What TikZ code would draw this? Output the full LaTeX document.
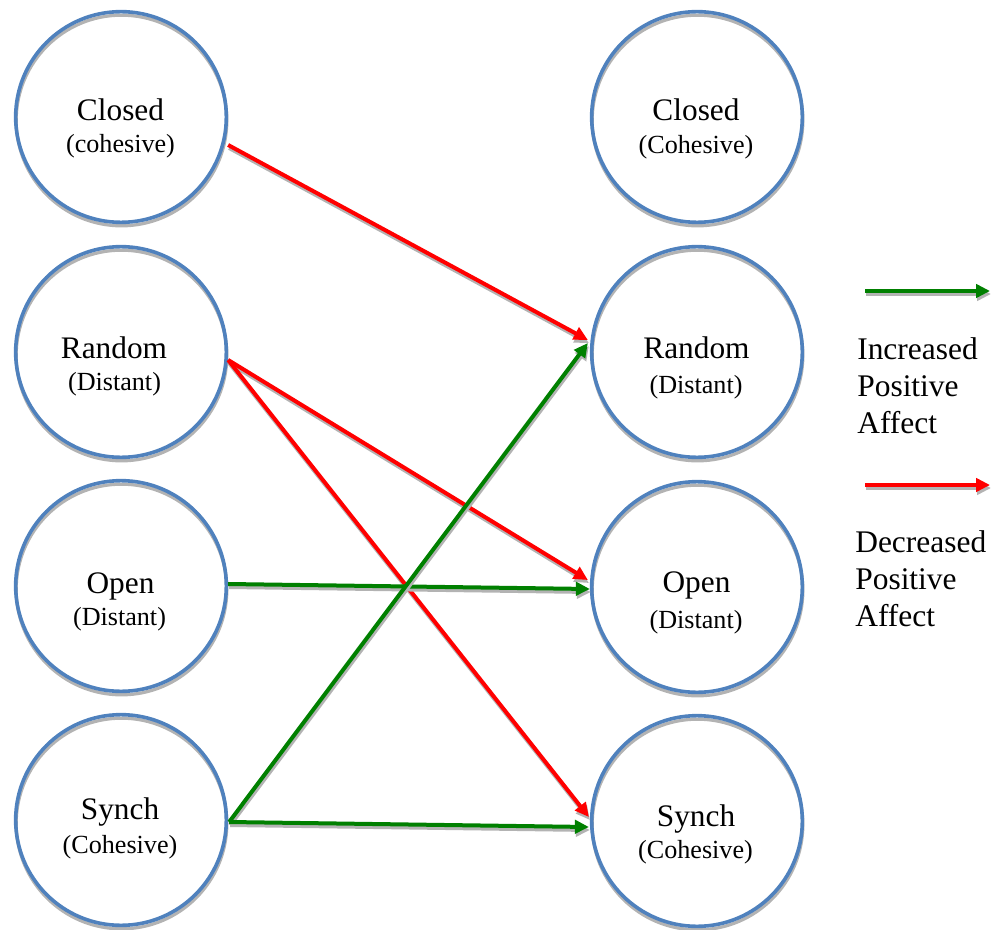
\documentclass[tikz,border=0pt]{standalone}
\usepackage{fontspec}
\setmainfont{Liberation Serif}
\usetikzlibrary{arrows.meta,calc}
\definecolor{ringblue}{HTML}{4F81BD}
\definecolor{upgreen}{HTML}{008000}
\definecolor{downred}{HTML}{FF0000}
\definecolor{shade}{HTML}{B3B3B3}

% one arrow with its soft grey drop shadow
\newcommand\flow[3]{%
  \draw[flowshade] #2 -- #3;
  \draw[flowline=#1] #2 -- #3;}

\begin{document}
\begin{tikzpicture}[x=0.75pt,y=-0.75pt,
  ring/.style={circle,draw=ringblue,line width=2.7pt,minimum size=158pt,inner sep=0pt,outer sep=1.35pt},
  ringshade/.style={draw=shade,line width=2.4pt},
  main/.style={font=\fontsize{23.5}{28}\selectfont,inner sep=0pt,anchor=base},
  sub/.style={font=\fontsize{19.6}{24}\selectfont,inner sep=0pt,anchor=base},
  legend/.style={font=\fontsize{23.6}{27.75}\selectfont,inner sep=0pt,anchor=base west,align=left},
  flowline/.style={line width=3pt,draw=#1,-{Triangle[length=10.5pt,width=10pt,fill=#1]}},
  flowshade/.style={line width=3pt,draw=shade,-{Triangle[length=10.5pt,width=10pt,fill=shade]},
    transform canvas={shift={(1,3)}}},
]
\useasboundingbox (0,0) rectangle (998,930);

% ring shadows
\foreach \cx/\cy in {121/117,121/352,121/586,121/820,697/117,697/352,697/587,697/821}
  \draw[ringshade] (\cx+0.5,\cy+3.5) circle[radius=79pt];

% left column
\node[ring] (L1) at (121,117) {};
\node[ring] (L2) at (121,352) {};
\node[ring] (L3) at (121,586) {};
\node[ring] (L4) at (121,820) {};
% right column
\node[ring] (R1) at (697,117) {};
\node[ring] (R2) at (697,352) {};
\node[ring] (R3) at (697,587) {};
\node[ring] (R4) at (697,821) {};

% labels
\node[main] (L1a) at ($(L1)+(-0.5,4)$) {Closed};
\node[sub]  (L1b) at ($(L1)+(-0.5,36)$) {(cohesive)};
\node[main] (L2a) at ($(L2)+(-7,6)$) {Random};
\node[sub]  (L2b) at ($(L2)+(-6.5,38)$) {(Distant)};
\node[main] (L3a) at ($(L3)+(-0.5,7)$) {Open};
\node[sub]  (L3b) at ($(L3)+(-1.5,39)$) {(Distant)};
\node[main] (L4a) at ($(L4)+(-1,-1)$) {Synch};
\node[sub]  (L4b) at ($(L4)+(-1,33)$) {(Cohesive)};

\node[main] (R1a) at ($(R1)+(-1,4)$) {Closed};
\node[sub]  (R1b) at ($(R1)+(-1,37)$) {(Cohesive)};
\node[main] (R2a) at ($(R2)+(-0.5,6)$) {Random};
\node[sub]  (R2b) at ($(R2)+(-1,41)$) {(Distant)};
\node[main] (R3a) at ($(R3)+(-0.5,5)$) {Open};
\node[sub]  (R3b) at ($(R3)+(-1,41)$) {(Distant)};
\node[main] (R4a) at ($(R4)+(-1,5)$) {Synch};
\node[sub]  (R4b) at ($(R4)+(-1.5,37)$) {(Cohesive)};

% transitions
\flow{downred}{($(L1.east)+(0,28)$)}{($(R2.west)+(-2,-12)$)}
\flow{downred}{($(L2.east)+(0,8)$)}{($(R3.west)+(-2,-7)$)}
\flow{downred}{($(L2.east)+(0,8)$)}{($(R4.west)+(-1,-4)$)}
\flow{upgreen}{($(L3.east)+(0,-2)$)}{($(R3.west)+(0,2)$)}
\flow{upgreen}{($(L4.east)+(1,2)$)}{($(R2.west)+(-2,-9)$)}
\flow{upgreen}{($(L4.east)+(1,2)$)}{($(R4.west)+(-1,6)$)}

% legend
\coordinate (g0) at (865,291);
\coordinate (g1) at (990,291);
\coordinate (r0) at (865,485);
\coordinate (r1) at (990,485);
\flow{upgreen}{(g0)}{(g1)}
\flow{downred}{(r0)}{(r1)}
\node[legend] (inc) at (857,433) {Increased\\Positive\\Affect};
\node[legend] (dec) at (855,626) {Decreased\\Positive\\Affect};
\end{tikzpicture}
\end{document}
